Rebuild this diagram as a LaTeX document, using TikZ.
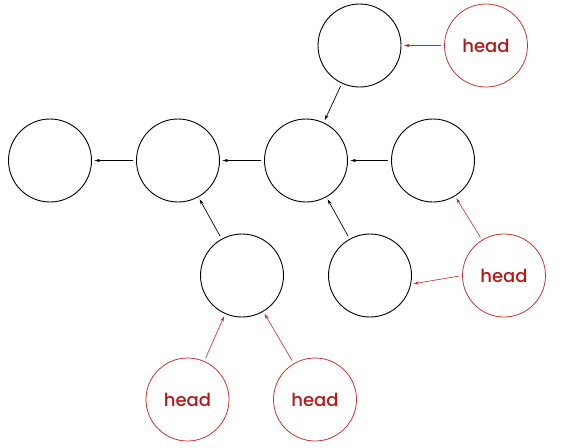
\documentclass[tikz,border=0pt]{standalone}
\usepackage{fontspec}
\usepackage{tikz}
\usetikzlibrary{arrows.meta}
\newfontfamily\headfont{Poppins}[UprightFont=* Medium]
\definecolor{headred}{RGB}{180,25,25}
\definecolor{ringred}{RGB}{192,45,38}

\begin{document}
\begin{tikzpicture}[x=1pt,y=-1pt,
  >={Stealth[length=5.5pt,width=3.2pt]},
  cell/.style={draw, circle, minimum size=83pt, inner sep=0pt, line width=0.9pt},
  hd/.style={draw=ringred, circle, minimum size=83pt, inner sep=0pt, line width=0.75pt,
    text=headred, font=\headfont\fontsize{18}{18}\selectfont},
  ptr/.style={->, black, line width=0.7pt, shorten <=3pt, shorten >=2.5pt},
  hptr/.style={->, ringred, line width=0.6pt, shorten <=3pt, shorten >=2.5pt},
]
\useasboundingbox (0,0) rectangle (567,447);
\node[cell] (T) at (359.5,45.5) {};
\node[hd]   (HT) at (486,45.5) {head};
\node[cell] (A) at (50,160.5) {};
\node[cell] (B) at (178,160.5) {};
\node[cell] (C) at (306,160.5) {};
\node[cell] (D) at (433,160.5) {};
\node[cell] (E) at (242,275.5) {};
\node[cell] (F) at (370,275.5) {};
\node[hd]   (HF) at (504,275.5) {head};
\node[hd]   (H1) at (187.5,399.5) {head};
\node[hd]   (H2) at (315,399.5) {head};
\draw[ptr] (B)--(A); \draw[ptr] (C)--(B); \draw[ptr] (D)--(C);
\draw[ptr] (T)--(C);
\draw[ptr] (E)--(B); \draw[ptr] (F)--(C);
\draw[hptr] (HT)--(T);
\draw[hptr] (HF)--(D);
\draw[hptr] (HF.west)--(F.-12);
\draw[hptr] (H1)--(E); \draw[hptr] (H2)--(E);
\end{tikzpicture}
\end{document}
